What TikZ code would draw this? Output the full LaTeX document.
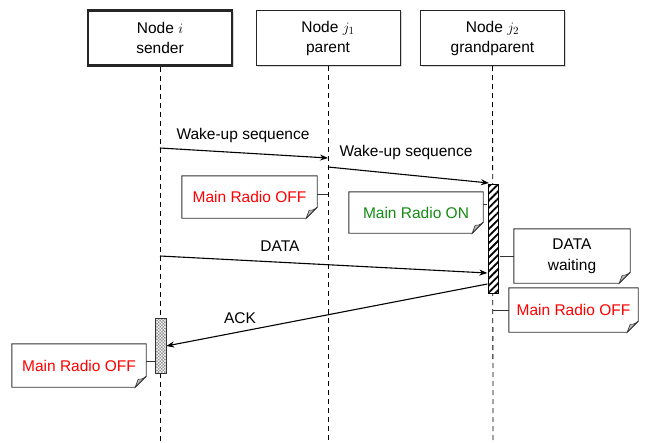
\documentclass[tikz,border=0pt]{standalone}
\usepackage{fontspec}
\setmainfont{Liberation Sans}
\usetikzlibrary{arrows.meta,patterns.meta,calc,backgrounds,shadows}
\definecolor{radiored}{RGB}{255,0,0}
\definecolor{radiogreen}{RGB}{20,140,20}
\newcommand{\foldnote}[1]{%
  \begin{pgfonlayer}{background}
  \draw[fill=white, line width=0.9pt, draw=black!80]
    (#1.north west) -- (#1.north east) -- ($(#1.south east)+(0,-11)$)
    -- ($(#1.south east)+(-11,0)$) -- (#1.south west) -- cycle;
  \draw[fill=black!28, line width=0.6pt, draw=black!80]
    ($(#1.south east)+(0,-11)$) .. controls ($(#1.south east)+(-4,-8)$) .. ($(#1.south east)+(-8,-8)$)
    -- ($(#1.south east)+(-11,0)$) -- cycle;
  \end{pgfonlayer}}
\begin{document}
\begin{tikzpicture}[x=1pt,y=-1pt,
  font=\fontsize{15.5}{20}\selectfont,
  head/.style={draw=black!85, fill=white, line width=1pt, minimum width=144pt,
    minimum height=55pt, inner sep=0pt, align=center,
    drop shadow={shadow xshift=1.5pt, shadow yshift=-1.5pt, opacity=0.3}},
  lifeline/.style={dash pattern=on 5pt off 4pt, line width=0.8pt},
  msg/.style={line width=1.1pt, -{Stealth[length=8pt,width=6pt]}},
  notetext/.style={inner sep=0pt, align=center},
  lbl/.style={inner sep=0pt},
  link/.style={line width=0.8pt, draw=black!80}]
\useasboundingbox (0,0) rectangle (645,442);
\begin{pgfonlayer}{background}
\fill[white] (0,0) rectangle (645,442);
\end{pgfonlayer}

% headers
\node[head, line width=2.4pt] (ni) at (160,38) {Node $i$\\sender};
\node[head] (nj1) at (328,38) {Node $j_1$\\parent};
\node[head] (nj2) at (492.5,38) {Node $j_2$\\grandparent};

% lifeline ends
\coordinate (ei) at (160,442);
\coordinate (ej1) at (328,442);
\coordinate (ej2) at (493,442);
\draw[lifeline] (ni.south) -- (ei);
\draw[lifeline] (nj1.south) -- (ej1);
\draw[lifeline] (nj2.south) -- (ej2);

% activation bars
\node[draw=black, line width=0.9pt, minimum width=10.5pt, minimum height=109pt, inner sep=0pt,
  preaction={fill=white}, pattern={Lines[angle=45,distance=5pt,line width=1.8pt]}] (bar2) at (493.5,238.5) {};
\node[draw=black!80, line width=0.8pt, minimum width=11pt, minimum height=55pt, inner sep=0pt,
  preaction={fill=black!45}, pattern={Hatch[angle=45,distance=2.2pt,line width=0.5pt]},
  pattern color=white] (bari) at (160.5,345.5) {};

% message end points
\coordinate (w1s) at (160,148);
\coordinate (w1e) at (328,158);
\coordinate (w2s) at (328,167);
\coordinate (w2e) at (489,183);
\coordinate (ds) at (160,256);
\coordinate (de) at (bar2.west |- 0,273);
\coordinate (as) at (bar2.west |- 0,284);
\coordinate (ae) at (bari.east |- 0,346);

\draw[msg] (w1s) -- (w1e);
\draw[msg] (w2s) -- (w2e);
\draw[msg] (ds) -- (de);
\draw[msg] (as) -- (ae);

\node[lbl] (l1) at (243,135) {Wake-up sequence};
\node[lbl] (l2) at (406,152) {Wake-up sequence};
\node[lbl] (l3) at (280,246) {DATA};
\node[lbl] (l4) at (240,318) {ACK};

% notes
\node[notetext, minimum width=135pt, minimum height=42pt, text=radiored] (n1) at (249.5,197) {Main Radio OFF};
\foldnote{n1}
\node[notetext, minimum width=134pt, minimum height=41pt, text=radiogreen] (n2) at (416,212.5) {Main Radio ON};
\foldnote{n2}
\node[notetext, minimum width=116pt, minimum height=54pt, font=\fontsize{15.5}{21}\selectfont] (n3) at (572,256) {DATA\\waiting};
\foldnote{n3}
\node[notetext, minimum width=129pt, minimum height=44pt, text=radiored] (n4) at (573.5,310) {Main Radio OFF};
\foldnote{n4}
\node[notetext, minimum width=134pt, minimum height=43pt, text=radiored] (n5) at (79,365.5) {Main Radio OFF};
\foldnote{n5}

% note links
\coordinate (k1) at (328,194);
\coordinate (k2) at (bar2.west |- 0,204);
\coordinate (k3) at (bar2.east |- 0,256);
\coordinate (k4) at (493,310);
\coordinate (k5) at (bari.west |- 0,361);
\draw[link] (n1.east |- k1) -- (k1);
\draw[link] (n2.east |- k2) -- (k2);
\draw[link] (k3) -- (n3.west |- k3);
\draw[link] (k4) -- (n4.west |- k4);
\draw[link] (n5.east |- k5) -- (k5);
\end{tikzpicture}
\end{document}
